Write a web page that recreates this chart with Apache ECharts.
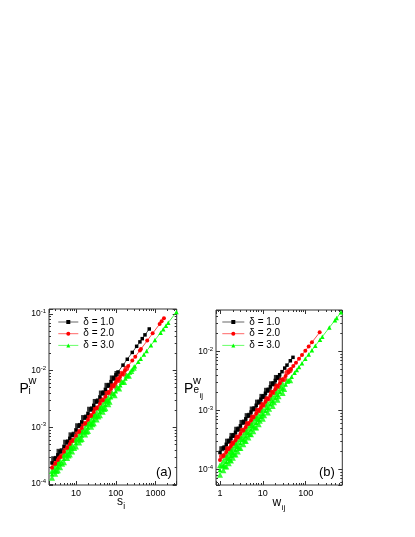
<!DOCTYPE html>
<html>
<head>
<meta charset="utf-8">
<script src="https://cdn.jsdelivr.net/npm/echarts@6/dist/echarts.min.js"></script>
<style>
html, body { margin: 0; padding: 0; background: #fff; }
#chart { width: 415px; height: 537px; }
</style>
</head>
<body>
<div id="chart"></div>
<script>
const seriesNames = ['δ = 1.0', 'δ = 2.0', 'δ = 3.0']
const colors = ['#000000', '#ff0000', '#00ff00']
const symbols = ['rect', 'circle', 'triangle']
const symbolSizes = [3.5, 4, 4.5]
const spreadSizes = [5, 5.5, 6]

// panel (a): [s_i, P_i^w]
const aDelta1 = [[2.5, 2.36e-4], [3, 2.81e-4], [3.5, 3.27e-4], [4, 3.72e-4], [5, 4.61e-4], [6, 5.50e-4], [7, 6.39e-4], [8, 7.26e-4], [10, 9.02e-4], [12, 1.075e-3], [14, 1.248e-3], [17, 1.504e-3], [20, 1.762e-3], [24, 2.10e-3], [28, 2.44e-3], [33, 2.86e-3], [40, 3.44e-3], [47, 4.02e-3], [55, 4.68e-3], [65, 5.50e-3], [76, 6.40e-3], [88, 7.37e-3], [101, 8.42e-3], [114, 9.48e-3], [152, 0.01252], [195, 0.0159], [260, 0.0210], [335, 0.0269], [405, 0.0322], [463, 0.0367], [542, 0.0428], [695, 0.0544]]
const aDelta2 = [[2.5, 1.93e-4], [3, 2.28e-4], [3.5, 2.64e-4], [4, 2.99e-4], [5, 3.69e-4], [6, 4.38e-4], [7, 5.06e-4], [8, 5.74e-4], [10, 7.07e-4], [12, 8.39e-4], [14, 9.69e-4], [17, 1.163e-3], [20, 1.355e-3], [24, 1.607e-3], [28, 1.858e-3], [33, 2.17e-3], [40, 2.60e-3], [47, 3.02e-3], [55, 3.50e-3], [65, 4.10e-3], [76, 4.75e-3], [88, 5.44e-3], [100, 6.13e-3], [113, 6.88e-3], [128, 7.73e-3], [146, 8.74e-3], [170, 0.01008], [206, 0.01209], [260, 0.01504], [309, 0.01768], [405, 0.02277], [430, 0.02408], [618, 0.0339], [845, 0.0455], [1268, 0.0665], [1422, 0.0741], [1626, 0.0839]]
const aDelta3 = [[2.5, 1.479e-4], [3, 1.747e-4], [3.5, 2.012e-4], [4, 2.275e-4], [5, 2.79e-4], [6, 3.30e-4], [7, 3.80e-4], [8, 4.29e-4], [10, 5.27e-4], [12, 6.22e-4], [14, 7.17e-4], [17, 8.55e-4], [20, 9.94e-4], [24, 1.174e-3], [28, 1.352e-3], [33, 1.574e-3], [40, 1.875e-3], [47, 2.174e-3], [55, 2.51e-3], [65, 2.93e-3], [76, 3.38e-3], [88, 3.86e-3], [100, 4.34e-3], [115, 4.94e-3], [130, 5.52e-3], [150, 6.30e-3], [175, 7.25e-3], [200, 8.19e-3], [228, 9.24e-3], [263, 0.01053], [303, 0.01198], [368, 0.01433], [423, 0.01627], [511, 0.01934], [597, 0.02232], [766, 0.0280], [966, 0.0347], [1342, 0.0469], [1560, 0.0538], [1824, 0.0621], [2084, 0.0702], [3350, 0.1083]]
// extra points in the dense (overlapping) part of each curve
const aSpread1 = [[2.75, 2.79e-4], [3.25, 2.83e-4], [3.75, 3.77e-4], [4.5, 3.87e-4], [5.5, 5.46e-4], [6.5, 5.53e-4], [7.5, 7.37e-4], [9, 7.57e-4], [11, 1.067e-3], [13, 1.080e-3], [15.5, 1.486e-3], [18.5, 1.520e-3], [22, 2.085e-3], [26, 2.111e-3], [30.5, 2.861e-3], [36.5, 2.930e-3], [43.5, 4.032e-3], [51, 4.049e-3], [60, 5.50e-3], [70, 5.50e-3], [82, 7.44e-3], [94, 7.31e-3], [107, 8.91e-3]]
const aSpread2 = [[2.75, 2.28e-4], [3.25, 2.29e-4], [3.75, 3.04e-4], [4.5, 3.11e-4], [5.5, 4.36e-4], [6.5, 4.39e-4], [7.5, 5.83e-4], [9, 5.96e-4], [11, 8.35e-4], [13, 8.42e-4], [15.5, 1.152e-3], [18.5, 1.172e-3], [22, 1.60e-3], [26, 1.613e-3], [30.5, 2.175e-3], [36.5, 2.216e-3], [43.5, 3.03e-3], [51, 3.035e-3], [60, 4.10e-3], [70, 4.08e-3], [82, 5.50e-3], [94, 5.38e-3], [107, 7.06e-3], [120, 6.77e-3], [137, 8.90e-3], [158, 8.76e-3], [185, 0.01093]]
const aSpread3 = [[2.5, 1.70e-4], [2.5, 1.29e-4], [2.75, 1.77e-4], [3, 2.01e-4], [3, 1.52e-4], [3.25, 1.69e-4], [3.5, 2.31e-4], [3.5, 1.75e-4], [3.75, 2.36e-4], [4, 2.62e-4], [4, 1.98e-4], [4.5, 2.28e-4], [5, 3.21e-4], [5, 2.43e-4], [5.5, 3.35e-4], [6, 3.80e-4], [6, 2.87e-4], [6.5, 3.19e-4], [7, 4.37e-4], [7, 3.31e-4], [7.5, 4.45e-4], [8, 4.93e-4], [8, 3.73e-4], [9, 4.30e-4], [10, 6.06e-4], [10, 4.58e-4], [11, 6.32e-4], [12, 7.15e-4], [12, 5.41e-4], [13, 6.03e-4], [14, 8.25e-4], [14, 6.24e-4], [15.5, 8.65e-4], [17, 9.83e-4], [17, 7.44e-4], [18.5, 8.32e-4], [20, 1.143e-3], [20, 8.65e-4], [22, 1.192e-3], [24, 1.35e-3], [24, 1.021e-3], [26, 1.138e-3], [28, 1.555e-3], [28, 1.176e-3], [30.5, 1.609e-3], [33, 1.81e-3], [33, 1.369e-3], [36.5, 1.553e-3], [40, 2.16e-3], [40, 1.631e-3], [43.5, 2.23e-3], [47, 2.50e-3], [47, 1.89e-3], [51, 2.11e-3], [55, 2.89e-3], [55, 2.18e-3], [60, 2.99e-3], [65, 3.37e-3], [65, 2.55e-3], [70, 2.82e-3], [82, 3.98e-3], [94, 3.69e-3], [107, 5.08e-3], [122, 4.85e-3], [140, 6.32e-3], [162, 6.28e-3], [187, 8.24e-3], [214, 8.11e-3], [245, 9.87e-3], [283, 0.01126]]

// panel (b): [w_ij, P_eij^w]
const bDelta1 = [[1, 1.94e-4], [1.2, 2.31e-4], [1.4, 2.67e-4], [1.6, 3.03e-4], [1.8, 3.39e-4], [2, 3.74e-4], [2.3, 4.27e-4], [2.6, 4.80e-4], [3, 5.49e-4], [3.5, 6.36e-4], [4, 7.21e-4], [4.6, 8.23e-4], [5.3, 9.41e-4], [6, 1.059e-3], [7, 1.225e-3], [8, 1.390e-3], [9, 1.553e-3], [10, 1.718e-3], [11.5, 1.961e-3], [13, 2.20e-3], [15, 2.52e-3], [17, 2.84e-3], [19.5, 3.23e-3], [22, 3.62e-3], [24.7, 4.04e-3], [28, 4.55e-3], [32.4, 5.23e-3], [36.6, 5.87e-3], [43.8, 6.96e-3], [50.5, 7.96e-3]]
const bDelta2 = [[1, 1.449e-4], [1.2, 1.717e-4], [1.4, 1.981e-4], [1.6, 2.243e-4], [1.8, 2.503e-4], [2, 2.76e-4], [2.3, 3.14e-4], [2.6, 3.52e-4], [3, 4.02e-4], [3.5, 4.64e-4], [4, 5.26e-4], [4.6, 5.99e-4], [5.3, 6.83e-4], [6, 7.67e-4], [7, 8.85e-4], [8, 1.002e-3], [9, 1.118e-3], [10, 1.233e-3], [11.5, 1.404e-3], [13, 1.573e-3], [15, 1.798e-3], [17, 2.02e-3], [19.5, 2.29e-3], [22, 2.57e-3], [25, 2.89e-3], [29, 3.32e-3], [34, 3.85e-3], [40, 4.48e-3], [45.4, 5.04e-3], [51.4, 5.65e-3], [59.4, 6.47e-3], [69.8, 7.51e-3], [82, 8.73e-3], [98, 0.01030], [117.5, 0.01220], [140, 0.01435], [212, 0.02109]]
const bDelta3 = [[1, 9.82e-5], [1.2, 1.166e-4], [1.4, 1.349e-4], [1.6, 1.531e-4], [1.8, 1.712e-4], [2, 1.891e-4], [2.3, 2.158e-4], [2.6, 2.424e-4], [3, 2.775e-4], [3.5, 3.21e-4], [4, 3.64e-4], [4.6, 4.16e-4], [5.3, 4.75e-4], [6, 5.35e-4], [7, 6.18e-4], [8, 7.02e-4], [9, 7.84e-4], [10, 8.67e-4], [11.5, 9.89e-4], [13, 1.111e-3], [15, 1.272e-3], [17, 1.432e-3], [19.5, 1.631e-3], [22, 1.827e-3], [25, 2.063e-3], [29, 2.373e-3], [34, 2.76e-3], [40, 3.22e-3], [47, 3.75e-3], [55, 4.35e-3], [62, 4.87e-3], [69.8, 5.45e-3], [82, 6.34e-3], [98, 7.51e-3], [117.5, 8.92e-3], [140, 0.01052], [167.5, 0.01247], [216, 0.01586], [244, 0.01780], [356, 0.02544], [483, 0.0340], [528, 0.0369], [667, 0.0461]]
const bSpread1 = [[1.1, 2.25e-4], [1.3, 2.34e-4], [1.5, 3.02e-4], [1.7, 3.02e-4], [1.9, 3.78e-4], [2.15, 3.77e-4], [2.45, 4.81e-4], [2.8, 4.84e-4], [3.25, 6.28e-4], [3.75, 6.38e-4], [4.3, 8.19e-4], [4.95, 8.30e-4], [5.65, 1.06e-3], [6.5, 1.073e-3], [7.5, 1.387e-3], [8.5, 1.385e-3], [9.5, 1.734e-3], [10.7, 1.722e-3], [12.2, 2.20e-3], [14, 2.22e-3], [16, 2.84e-3], [18.2, 2.85e-3], [20.7, 3.63e-3], [23.3, 3.60e-3]]
const bSpread2 = [[1.1, 1.68e-4], [1.3, 1.74e-4], [1.5, 2.24e-4], [1.7, 2.23e-4], [1.9, 2.79e-4], [2.15, 2.78e-4], [2.45, 3.53e-4], [2.8, 3.55e-4], [3.25, 4.60e-4], [3.75, 4.65e-4], [4.3, 5.96e-4], [4.95, 6.03e-4], [5.65, 7.69e-4], [6.5, 7.76e-4], [7.5, 1.0e-3], [8.5, 9.96e-4], [9.5, 1.246e-3], [10.7, 1.234e-3], [12.2, 1.573e-3], [14, 1.585e-3], [16, 2.02e-3], [18.2, 2.02e-3], [20.7, 2.57e-3], [23.3, 2.55e-3], [26.5, 3.24e-3], [31.5, 3.37e-3], [37, 4.41e-3], [42.7, 4.76e-3]]
const bSpread3 = [[1, 1.18e-4], [1, 8.18e-5], [1.1, 1.18e-4], [1.2, 1.40e-4], [1.2, 9.72e-5], [1.3, 1.13e-4], [1.4, 1.62e-4], [1.4, 1.124e-4], [1.5, 1.58e-4], [1.6, 1.84e-4], [1.6, 1.276e-4], [1.7, 1.46e-4], [1.8, 2.05e-4], [1.8, 1.427e-4], [1.9, 1.98e-4], [2, 2.27e-4], [2, 1.576e-4], [2.15, 1.82e-4], [2.3, 2.59e-4], [2.3, 1.80e-4], [2.45, 2.52e-4], [2.6, 2.91e-4], [2.6, 2.02e-4], [2.8, 2.34e-4], [3, 3.33e-4], [3, 2.31e-4], [3.25, 3.29e-4], [3.5, 3.85e-4], [3.5, 2.68e-4], [3.75, 3.09e-4], [4, 4.37e-4], [4, 3.03e-4], [4.3, 4.29e-4], [4.6, 4.99e-4], [4.6, 3.47e-4], [4.95, 4.01e-4], [5.3, 5.70e-4], [5.3, 3.96e-4], [5.65, 5.56e-4], [6, 6.42e-4], [6, 4.46e-4], [6.5, 5.19e-4], [7, 7.42e-4], [7, 5.15e-4], [7.5, 7.26e-4], [8, 8.42e-4], [8, 5.85e-4], [8.5, 6.69e-4], [9.5, 9.08e-4], [10, 1.04e-3], [10, 7.22e-4], [10.7, 8.32e-4], [12.2, 1.151e-3], [13, 1.333e-3], [13, 9.26e-4], [14, 1.073e-3], [16, 1.487e-3], [17, 1.72e-3], [17, 1.193e-3], [18.2, 1.375e-3], [20.7, 1.90e-3], [22, 2.19e-3], [22, 1.52e-3], [23.3, 1.737e-3], [26.5, 2.40e-3], [29, 2.85e-3], [29, 1.98e-3], [31.5, 2.31e-3], [37, 3.17e-3], [43.5, 3.27e-3]]

// axis extents
const aXRange = [2.1, 3400]
const aYRange = [9.6e-5, 0.1225]
const bXRange = [0.807, 715]
const bYRange = [5.46e-5, 0.0505]

const fontFamily = '"Liberation Sans", Arial, sans-serif'
const frameColor = '#333'

const isPow10 = (v) => {
  const e = Math.log10(v)
  return Math.abs(e - Math.round(e)) < 1e-6
}

function makeAxis(gridIndex, range, position, showLabel, isY) {
  return {
    type: 'log',
    logBase: 10,
    gridIndex,
    min: range[0],
    max: range[1],
    position,
    axisLine: { show: false },
    axisTick: { show: true, inside: true, length: 4, lineStyle: { color: frameColor, width: 1 } },
    minorTick: { show: true, splitNumber: 9, length: 2, lineStyle: { color: frameColor, width: 1 } },
    splitLine: { show: false },
    minorSplitLine: { show: false },
    axisLabel: {
      show: showLabel,
      margin: isY ? 3 : 4,
      color: '#000',
      fontSize: 9,
      fontFamily,
      formatter: (v) => {
        if (!isPow10(v)) return ''
        const e = Math.round(Math.log10(v))
        return isY ? '{b|10}{s|' + e + '}' : String(Math.round(v))
      },
      rich: {
        b: { fontSize: 8.5, fontFamily, color: '#000' },
        s: { fontSize: 6, fontFamily, color: '#000', padding: [0, 0, 5, 0] },
      },
    },
  }
}

function lineSeries(data, i, axisIdx) {
  return {
    type: 'line',
    name: seriesNames[i],
    data,
    xAxisIndex: axisIdx,
    yAxisIndex: axisIdx,
    symbol: symbols[i],
    symbolSize: symbolSizes[i],
    showSymbol: true,
    lineStyle: { width: 0.7, color: colors[i] },
    itemStyle: { color: colors[i] },
    silent: true,
  }
}

function spreadSeries(data, i, axisIdx) {
  return {
    type: 'scatter',
    name: seriesNames[i],
    data,
    xAxisIndex: axisIdx,
    yAxisIndex: axisIdx,
    symbol: symbols[i],
    symbolSize: spreadSizes[i],
    itemStyle: { color: colors[i] },
    silent: true,
  }
}

function legendAt(left, itemWidth) {
  return {
    data: seriesNames,
    orient: 'vertical',
    left,
    top: 317,
    padding: 0,
    itemWidth,
    itemHeight: 5,
    itemGap: 1.7,
    selectedMode: false,
    lineStyle: { width: 0.6 },
    textStyle: { fontSize: 10, fontFamily, color: '#000', lineHeight: 10 },
  }
}

function txt(text, x, y, size) {
  return {
    type: 'text',
    x,
    y,
    silent: true,
    style: { text, fontSize: size, fontFamily, fill: '#000', verticalAlign: 'top' },
  }
}

const chart = echarts.init(document.getElementById('chart'), null, { renderer: 'canvas' })

const option = {
  animation: false,
  backgroundColor: '#fff',
  grid: [
    { left: 49, top: 309, width: 127.7, height: 176, show: true, borderColor: frameColor, borderWidth: 1 },
    { left: 216, top: 310, width: 126.3, height: 175, show: true, borderColor: frameColor, borderWidth: 1 },
  ],
  xAxis: [
    makeAxis(0, aXRange, 'bottom', true, false),
    makeAxis(0, aXRange, 'top', false, false),
    makeAxis(1, bXRange, 'bottom', true, false),
    makeAxis(1, bXRange, 'top', false, false),
  ],
  yAxis: [
    makeAxis(0, aYRange, 'left', true, true),
    makeAxis(0, aYRange, 'right', false, true),
    makeAxis(1, bYRange, 'left', true, true),
    makeAxis(1, bYRange, 'right', false, true),
  ],
  legend: [legendAt(58, 20), legendAt(222, 22)],
  series: [
    lineSeries(aDelta1, 0, 0),
    spreadSeries(aSpread1, 0, 0),
    lineSeries(aDelta2, 1, 0),
    spreadSeries(aSpread2, 1, 0),
    lineSeries(aDelta3, 2, 0),
    spreadSeries(aSpread3, 2, 0),
    lineSeries(bDelta1, 0, 2),
    spreadSeries(bSpread1, 0, 2),
    lineSeries(bDelta2, 1, 2),
    spreadSeries(bSpread2, 1, 2),
    lineSeries(bDelta3, 2, 2),
    spreadSeries(bSpread3, 2, 2),
  ],
  graphic: [
    // panel (a) labels
    txt('P', 19.5, 382, 14),
    txt('w', 28.5, 375.5, 11),
    txt('i', 28.5, 386.5, 10),
    txt('s', 117, 496, 12),
    txt('i', 123.3, 502.5, 8.5),
    txt('(a)', 156, 466, 13),
    // panel (b) labels
    txt('P', 184, 382, 14),
    txt('w', 193, 375, 11),
    txt('e', 193.5, 385, 10),
    txt('ij', 199.5, 392, 8),
    txt('w', 272.5, 497, 12),
    txt('ij', 281.7, 503.5, 8),
    txt('(b)', 319, 466, 13),
  ],
}

chart.setOption(option)

window.addEventListener('resize', () => {
  chart.resize()
})
</script>
</body>
</html>
